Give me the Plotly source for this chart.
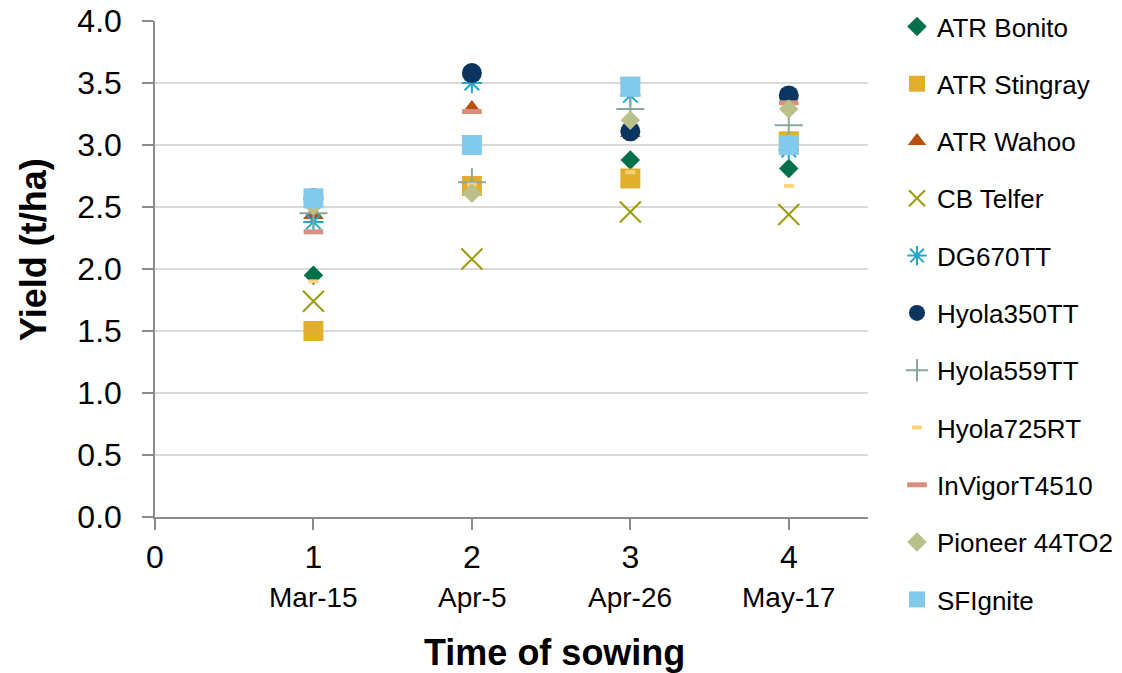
import plotly.graph_objects as go

# Time of sowing (TOS) index and corresponding sowing dates
tos = [1, 2, 3, 4]
sowing_dates = ["Mar-15", "Apr-5", "Apr-26", "May-17"]

# Yield (t/ha) per cultivar at each time of sowing
atr_bonito = [1.95, 2.65, 2.88, 2.81]
atr_stingray = [1.50, 2.67, 2.73, 3.03]
atr_wahoo = [2.44, 3.29, 3.10, 2.96]
cb_telfer = [1.74, 2.08, 2.46, 2.44]
dg670tt = [2.38, 3.50, 3.40, 2.96]
hyola350tt = [2.57, 3.58, 3.11, 3.40]
hyola559tt = [2.45, 2.70, 3.29, 3.16]
hyola725rt = [1.90, 2.68, 2.78, 2.67]
invigor_t4510 = [2.30, 3.27, 3.53, 3.34]
pioneer_44to2 = [2.51, 2.61, 3.20, 3.29]
sfignite = [2.57, 3.00, 3.47, 3.00]

series = [
    ("ATR Bonito", atr_bonito, dict(symbol="diamond", size=15, color="#00704A")),
    ("ATR Stingray", atr_stingray, dict(symbol="square", size=20, color="#E2AF2C")),
    ("ATR Wahoo", atr_wahoo, dict(symbol="triangle-up", size=18, color="#B5500E")),
    ("CB Telfer", cb_telfer, dict(symbol="x-thin", size=21, color="#9C9C0A",
                                  line=dict(color="#9C9C0A", width=2))),
    ("DG670TT", dg670tt, dict(symbol="asterisk", size=17, color="#21A8CC",
                              line=dict(color="#21A8CC", width=2))),
    ("Hyola350TT", hyola350tt, dict(symbol="circle", size=20, color="#0A3560")),
    ("Hyola559TT", hyola559tt, dict(symbol="cross-thin", size=20, color="#8BA89C",
                                    line=dict(color="#8BA89C", width=2))),
    ("Hyola725RT", hyola725rt, dict(symbol="line-ew", size=7, color="#FFD27A",
                                    line=dict(color="#FFD27A", width=4))),
    ("InVigorT4510", invigor_t4510, dict(symbol="line-ew", size=14, color="#D8907E",
                                         line=dict(color="#D8907E", width=5))),
    ("Pioneer 44TO2", pioneer_44to2, dict(symbol="diamond", size=15, color="#BAC08A")),
    ("SFIgnite", sfignite, dict(symbol="square", size=20, color="#82CAEB")),
]

fig = go.Figure()
for name, vals, marker in series:
    fig.add_trace(go.Scatter(
        x=tos, y=vals, mode="markers", name=name, marker=marker,
        legendgroup=name,
    ))

W, H = 1122, 673
L, R, T, B = 155, 254, 21, 156
pw, ph = W - L - R, H - T - B

FONT = "Liberation Sans, Arial"

# Sowing date labels under the numeric TOS ticks
for x, d in zip(tos, sowing_dates):
    fig.add_annotation(x=x, y=0, xref="x", yref="paper", text=d,
                       showarrow=False, xanchor="center", yanchor="middle", yshift=-80,
                       font=dict(family=FONT, size=28, color="#000000"))

# Axis titles
fig.add_annotation(x=(554 - L) / pw, y=(H - B - 652) / ph, xref="paper", yref="paper",
                   text="<b>Time of sowing</b>", showarrow=False,
                   xanchor="center", yanchor="middle",
                   font=dict(family=FONT, size=36, color="#000000"))
fig.add_annotation(x=(33 - L) / pw, y=(H - B - 250) / ph, xref="paper", yref="paper",
                   text="<b>Yield (t/ha)</b>", textangle=-90, showarrow=False,
                   xanchor="center", yanchor="middle",
                   font=dict(family=FONT, size=36, color="#000000"))

fig.update_layout(
    width=W, height=H,
    margin=dict(l=L, r=R, t=T, b=B, autoexpand=False),
    plot_bgcolor="white", paper_bgcolor="white",
    font=dict(family=FONT, color="#000000"),
    legend=dict(
        xref="container", yref="container",
        x=(937 - 40) / W, y=1 - 3 / H, xanchor="left", yanchor="top",
        font=dict(size=26, color="#000000"),
        tracegroupgap=20.5, bgcolor="rgba(0,0,0,0)", maxheight=H,
    ),
    xaxis=dict(
        range=[0, 4.5], tickmode="array", tickvals=[0, 1, 2, 3, 4],
        ticktext=["0", "1", "2", "3", "4"],
        tickfont=dict(size=32), showgrid=False, zeroline=False,
        showline=True, linecolor="#8C8C8C", linewidth=1.5,
        ticks="outside", ticklen=11, tickcolor="#8C8C8C", tickwidth=1.5,
    ),
    yaxis=dict(
        range=[0, 4.0], dtick=0.5, tickformat=".1f",
        tickfont=dict(size=32), showgrid=True, gridcolor="#D9D9D9", gridwidth=1.5,
        zeroline=False, showline=True, linecolor="#8C8C8C", linewidth=1.5,
        ticks="outside", ticklen=11, tickcolor="#8C8C8C", tickwidth=1.5,
        ticklabelstandoff=14,
    ),
)

fig.write_html("out.html")
